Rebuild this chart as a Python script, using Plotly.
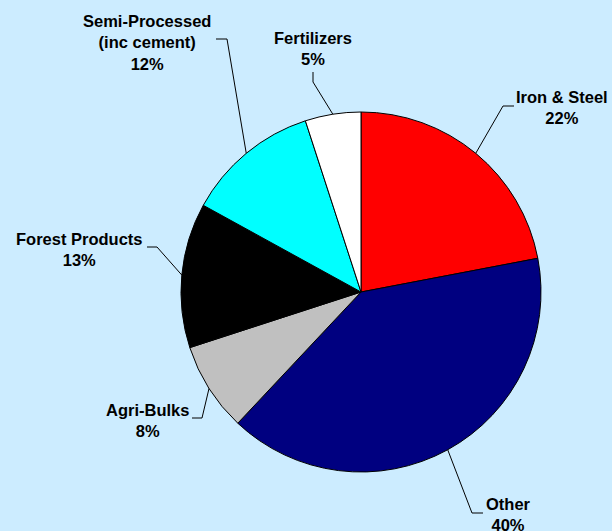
import math
import plotly.graph_objects as go

# ---- data ----
categories = ["Iron & Steel", "Other", "Agri-Bulks", "Forest Products",
              "Semi-Processed<br>(inc cement)", "Fertilizers"]
shares = [22, 40, 8, 13, 12, 5]
colors = ["#FF0000", "#000080", "#C0C0C0", "#000000", "#00FFFF", "#FFFFFF"]

# ---- layout settings (pixels in a 612x531 canvas) ----
W, H = 612, 531
CX, CY, R = 361, 292, 180
# label placement: elbow of leader line, tail end, label centre
elbows = [(503, 106), (472, 513), (202, 418), (157, 247), (227, 39), (313, 82)]
tails = [(514, 106), (483, 513), (192, 418), (147, 247), (216, 39), (313, 72)]
label_pos = [(562, 107), (508, 514), (147, 420), (79, 249), (147, 42), (313, 49)]


def px(x):
    return x / W


def py(y):
    return 1 - y / H


fig = go.Figure()
fig.add_trace(go.Pie(
    values=shares,
    labels=categories,
    marker=dict(colors=colors, line=dict(color="#000000", width=1)),
    sort=False,
    direction="clockwise",
    rotation=0,
    textinfo="none",
    hoverinfo="label+percent",
    showlegend=False,
    domain=dict(x=[px(CX - R), px(CX + R)], y=[py(CY + R), py(CY - R)]),
))

total = sum(shares)
cum = 0
shapes = []
annotations = []
for i, (cat, v) in enumerate(zip(categories, shares)):
    mid = (cum + v / 2) / total * 2 * math.pi
    cum += v
    ex = CX + R * math.sin(mid)
    ey = CY - R * math.cos(mid)
    bx, by = elbows[i]
    tx, ty = tails[i]
    path = f"M {px(ex)},{py(ey)} L {px(bx)},{py(by)} L {px(tx)},{py(ty)}"
    shapes.append(dict(type="path", xref="paper", yref="paper", path=path,
                       line=dict(color="#000000", width=1)))
    lx, ly = label_pos[i]
    pct = round(v / total * 100)
    annotations.append(dict(
        x=px(lx), y=py(ly), xref="paper", yref="paper",
        text=f"{cat}<br>{pct}%", showarrow=False, align="center",
        xanchor="center", yanchor="middle",
        font=dict(family="Liberation Sans, Arial, sans-serif", size=16.5,
                  color="#000000", weight="bold"),
    ))

fig.update_layout(
    width=W, height=H,
    margin=dict(l=0, r=0, t=0, b=0),
    paper_bgcolor="#CCECFF",
    plot_bgcolor="#CCECFF",
    shapes=shapes,
    annotations=annotations,
)

fig.write_html("out.html")
